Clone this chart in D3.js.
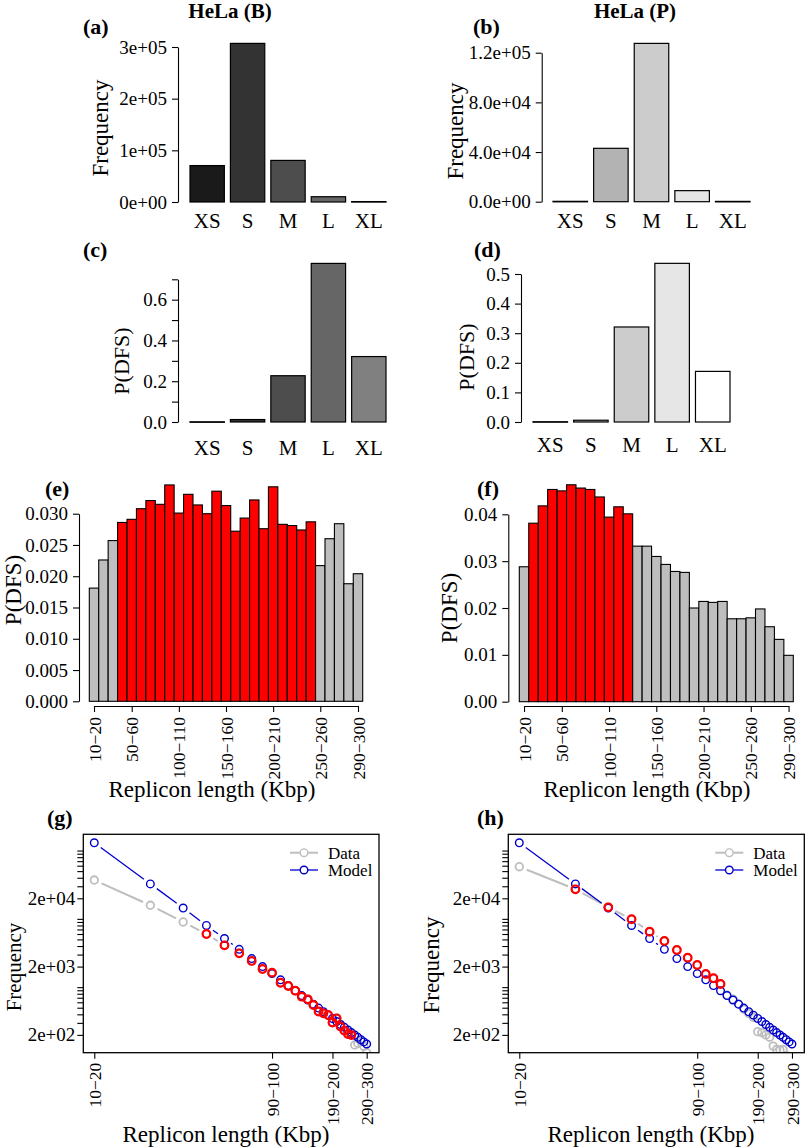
<!DOCTYPE html>
<html>
<head>
<meta charset="utf-8">
<script src="https://cdn.jsdelivr.net/npm/d3@7"></script>
<style>
  body { margin: 0; background: #fff; }
  svg text { font-family: "Liberation Serif", "Times New Roman", Times, serif; fill: #000; }
</style>
</head>
<body>
<svg id="fig" width="805" height="1148"></svg>
<script>
// ---- values ----
const sizeClasses = ["XS", "S", "M", "L", "XL"];
const freqB = [70500, 307000, 80500, 10200, 800];
const freqP = [300, 43000, 127500, 8900, 250];
const dfsB = [0.001, 0.012, 0.227, 0.778, 0.321];
const dfsP = [0.001, 0.006, 0.321, 0.536, 0.171];

// replicon length bins (lower bound, Kbp)
const binStarts = [10, 20, 30, 40, 50, 60, 70, 80, 90, 100, 110, 120, 130, 140, 150,
                   160, 170, 180, 190, 200, 210, 220, 230, 240, 250, 260, 270, 280, 290];
const dfsBinB = [0.0181, 0.0226, 0.0257, 0.0286, 0.0291, 0.0308, 0.0321, 0.0315, 0.0346, 0.0301,
                 0.0331, 0.0314, 0.0300, 0.0336, 0.0313, 0.0272, 0.0293, 0.0322, 0.0276, 0.0343,
                 0.0283, 0.0281, 0.0274, 0.0287, 0.0217, 0.0260, 0.0284, 0.0188, 0.0204];
const dfsBinP = [0.0288, 0.0381, 0.0418, 0.0453, 0.0450, 0.0463, 0.0456, 0.0453, 0.0437, 0.0394,
                 0.0416, 0.0401, 0.0332, 0.0332, 0.0310, 0.0293, 0.0278, 0.0276, 0.0200, 0.0214,
                 0.0212, 0.0214, 0.0177, 0.0177, 0.0179, 0.0198, 0.0160, 0.0133, 0.0099];
const highlightB = [40, 240];   // first and last red bin
const highlightP = [20, 120];

const dataFreqB = [37000, 15800, 9000, 6000, 4100, 3130, 2420, 1845, 1630, 1160,
                   1040, 888, 725, 664, 548, 440, 414, 391, 303, 350,
                   264, 231, 206, 199, 142, 150, 160, 136, 110];
const dataFreqP = [58000, 27100, 14760, 9860, 6490, 4740, 3500, 2700, 2110, 1560,
                   1350, 1112, 768, 664, 566, 474, 414, 362, 223, 216,
                   200, 185, 137, 122, 120, 122, 100, 95, 90];
const modelFreq = [130000, 32500, 14400, 8000, 5150, 3580, 2620, 2000, 1580, 1280,
                   1055, 885, 752, 648, 563, 494, 437, 389, 348, 314,
                   284, 258, 236, 216, 199, 184, 170, 158, 147];

// axis ticks and labels
const freqTicksB = [0, 100000, 200000, 300000];
const freqLabelsB = ["0e+00", "1e+05", "2e+05", "3e+05"];
const freqTicksP = [0, 40000, 80000, 120000];
const freqLabelsP = ["0.0e+00", "4.0e+04", "8.0e+04", "1.2e+05"];
const dfsTicksB = [0, 0.1, 0.2, 0.3, 0.4, 0.5, 0.6, 0.7];
const dfsLabelsB = ["0.0", "", "0.2", "", "0.4", "", "0.6", ""];
const dfsTicksP = [0, 0.1, 0.2, 0.3, 0.4, 0.5];
const dfsLabelsP = ["0.0", "0.1", "0.2", "0.3", "0.4", "0.5"];
const binTicksE = [0, 0.005, 0.010, 0.015, 0.020, 0.025, 0.030];
const binLabelsE = ["0.000", "0.005", "0.010", "0.015", "0.020", "0.025", "0.030"];
const binTicksF = [0, 0.01, 0.02, 0.03, 0.04];
const binLabelsF = ["0.00", "0.01", "0.02", "0.03", "0.04"];
const binAxisAt = [10, 50, 100, 150, 200, 250, 290];
const logYTicks = [200, 300, 400, 500, 600, 700, 800, 900, 1000,
                   2000, 3000, 4000, 5000, 6000, 7000, 8000, 9000, 10000,
                   20000, 30000, 40000, 50000, 60000, 70000, 80000, 90000, 100000];
const logYLabelled = {200: "2e+02", 2000: "2e+03", 20000: "2e+04"};
const logXTicks = [10, 90, 190, 290];
const logXDomain = [8.73, 337.7];
const logYDomain = [109.7, 173000];

const binLabel = b => b + "\u2212" + (b + 10);

// palettes
const grayB = ["#1a1a1a", "#333333", "#4d4d4d", "#666666", "#808080"];
const grayP = ["#999999", "#b3b3b3", "#cccccc", "#e6e6e6", "#ffffff"];
const hiRed = "#ff0000", loGray = "#bebebe", modelBlue = "#0000cd";

const svg = d3.select("#fig");
const FONT = "'Liberation Serif','Times New Roman',Times,serif";

function label(x, y, s, size, opt = {}) {
  const t = svg.append("text").attr("x", x).attr("y", y).text(s)
    .attr("font-size", size)
    .attr("text-anchor", opt.anchor || "middle")
    .attr("font-weight", opt.bold ? "bold" : null);
  if (opt.rotate) t.attr("transform", `rotate(-90,${x},${y})`);
  return t;
}

function styleAxis(g, size) {
  g.attr("font-family", FONT).attr("font-size", size);
  g.selectAll("path, line").attr("stroke", "#000").attr("stroke-width", 1.1);
  g.selectAll("text").attr("fill", "#000");
}

// ---- bar charts of size classes ----
function classPanel(o) {
  const x = d3.scaleBand().domain(sizeClasses).range([o.left, o.right]).paddingInner(0.15);
  const y = d3.scaleLinear().domain([0, o.ticks[o.ticks.length - 1]]).range([o.base, o.top]);
  svg.append("g").selectAll("rect").data(o.values).join("rect")
    .attr("x", (d, i) => x(sizeClasses[i]))
    .attr("width", x.bandwidth())
    .attr("y", d => y(d))
    .attr("height", d => Math.max(0.5, o.base - y(d)))
    .attr("fill", (d, i) => o.colors[i])
    .attr("stroke", "#000").attr("stroke-width", 1.2);
  const ax = svg.append("g").attr("transform", `translate(${o.axisX},0)`)
    .call(d3.axisLeft(y).tickValues(o.ticks).tickFormat((d, i) => o.labels[i])
      .tickSize(6).tickPadding(5).tickSizeOuter(0));
  styleAxis(ax, 19);
  sizeClasses.forEach(c => label(x(c) + x.bandwidth() / 2, o.catY, c, 21));
}

classPanel({values: freqB, colors: grayB, left: 190, right: 386, base: 202, top: 47,
  ticks: freqTicksB, labels: freqLabelsB, axisX: 178, catY: 228});
classPanel({values: freqP, colors: grayP, left: 553, right: 750, base: 201.7, top: 52.7,
  ticks: freqTicksP, labels: freqLabelsP, axisX: 541.7, catY: 228});
classPanel({values: dfsB, colors: grayB, left: 190, right: 386, base: 422, top: 279.3,
  ticks: dfsTicksB, labels: dfsLabelsB, axisX: 178, catY: 455});
classPanel({values: dfsP, colors: grayP, left: 533, right: 730, base: 422, top: 274,
  ticks: dfsTicksP, labels: dfsLabelsP, axisX: 521, catY: 452});

// ---- histograms over replicon length ----
function binPanel(o) {
  const x = d3.scaleBand().domain(binStarts).range([o.left, o.right]).padding(0);
  const y = d3.scaleLinear().domain([0, o.ticks[o.ticks.length - 1]]).range([o.base, o.top]);
  svg.append("g").selectAll("rect").data(o.values).join("rect")
    .attr("x", (d, i) => x(binStarts[i]))
    .attr("width", x.bandwidth())
    .attr("y", d => y(d))
    .attr("height", d => o.base - y(d))
    .attr("fill", (d, i) => binStarts[i] >= o.hi[0] && binStarts[i] <= o.hi[1] ? hiRed : loGray)
    .attr("stroke", "#000").attr("stroke-width", 1.1);
  const ay = svg.append("g").attr("transform", `translate(${o.axisX},0)`)
    .call(d3.axisLeft(y).tickValues(o.ticks).tickFormat((d, i) => o.labels[i])
      .tickSize(6).tickPadding(5).tickSizeOuter(0));
  styleAxis(ay, 19);
  const bw = x.bandwidth();
  const xc = d3.scaleLinear().domain([binStarts[0], binStarts[binStarts.length - 1]])
    .range([x(binStarts[0]) + bw / 2, x(binStarts[binStarts.length - 1]) + bw / 2]);
  const axb = svg.append("g").attr("transform", `translate(0,${o.axisY})`)
    .call(d3.axisBottom(xc).tickValues(binAxisAt).tickFormat(binLabel).tickSize(6).tickSizeOuter(0));
  styleAxis(axb, 17.5);
  axb.selectAll("text").attr("transform", "rotate(-90)")
    .attr("x", -11).attr("y", 0).attr("dy", "0.35em").attr("text-anchor", "end");
}

binPanel({values: dfsBinB, hi: highlightB, left: 89.3, right: 362.7, base: 701.3, top: 513.7,
  ticks: binTicksE, labels: binLabelsE, axisX: 79, axisY: 706});
binPanel({values: dfsBinP, hi: highlightP, left: 519.3, right: 793.3, base: 701.7, top: 514.3,
  ticks: binTicksF, labels: binLabelsF, axisX: 508.3, axisY: 706});

// ---- log-log frequency vs model ----
function logPanel(o) {
  const x = d3.scaleLog().domain(logXDomain).range([o.left, o.right]);
  const y = d3.scaleLog().domain(logYDomain).range([o.bottom, o.top]);
  const id = "clip" + o.key;
  svg.append("clipPath").attr("id", id).append("rect")
    .attr("x", o.left).attr("y", o.top).attr("width", o.right - o.left).attr("height", o.bottom - o.top);
  const g = svg.append("g").attr("clip-path", `url(#${id})`);

  const gap = 8, r = 3.8;
  // type = "b": lines broken around each point
  function brokenLine(vals, color, w) {
    const pts = vals.map((v, i) => [x(binStarts[i]), y(v)]);
    const segs = [];
    for (let i = 0; i < pts.length - 1; i++) {
      const [x1, y1] = pts[i], [x2, y2] = pts[i + 1];
      const d = Math.hypot(x2 - x1, y2 - y1);
      if (d > 2 * gap + 1) {
        const ux = (x2 - x1) / d, uy = (y2 - y1) / d;
        segs.push([x1 + ux * gap, y1 + uy * gap, x2 - ux * gap, y2 - uy * gap]);
      }
    }
    g.append("g").selectAll("line").data(segs).join("line")
      .attr("x1", d => d[0]).attr("y1", d => d[1]).attr("x2", d => d[2]).attr("y2", d => d[3])
      .attr("stroke", color).attr("stroke-width", w);
  }
  function dots(vals, color, w, keep) {
    g.append("g").selectAll("circle")
      .data(vals.map((v, i) => ({b: binStarts[i], v})).filter(keep))
      .join("circle")
      .attr("cx", d => x(d.b)).attr("cy", d => y(d.v)).attr("r", r)
      .attr("fill", "none").attr("stroke", color).attr("stroke-width", w);
  }
  brokenLine(o.data, loGray, 2);
  dots(o.data, loGray, 1.8, () => true);
  brokenLine(modelFreq, modelBlue, 1.3);
  dots(modelFreq, modelBlue, 1.4, () => true);
  dots(o.data, hiRed, 2.2, d => d.b >= o.hi[0] && d.b <= o.hi[1]);

  svg.append("rect").attr("x", o.left).attr("y", o.top)
    .attr("width", o.right - o.left).attr("height", o.bottom - o.top)
    .attr("fill", "none").attr("stroke", "#000").attr("stroke-width", 1.3);

  const ay = svg.append("g").attr("transform", `translate(${o.left},0)`)
    .call(d3.axisLeft(y).tickValues(logYTicks).tickFormat(d => logYLabelled[d] || "")
      .tickSize(6).tickPadding(2).tickSizeOuter(0));
  ay.select(".domain").remove();
  styleAxis(ay, 19);
  const ax = svg.append("g").attr("transform", `translate(0,${o.bottom})`)
    .call(d3.axisBottom(x).tickValues(logXTicks).tickFormat(binLabel).tickSize(6).tickSizeOuter(0));
  ax.select(".domain").remove();
  styleAxis(ax, 17.5);
  ax.selectAll("text").attr("transform", "rotate(-90)")
    .attr("x", -10).attr("y", 0).attr("dy", "0.35em").attr("text-anchor", "end");

  // legend
  const lg = svg.append("g");
  [["Data", loGray, 2, 852.7], ["Model", modelBlue, 1.3, 870]].forEach(([name, col, w, ly]) => {
    const lx = o.right - 89;
    lg.append("line").attr("x1", lx).attr("x2", lx + 10).attr("y1", ly).attr("y2", ly)
      .attr("stroke", col).attr("stroke-width", w);
    lg.append("line").attr("x1", lx + 18).attr("x2", lx + 28).attr("y1", ly).attr("y2", ly)
      .attr("stroke", col).attr("stroke-width", w);
    lg.append("circle").attr("cx", lx + 14).attr("cy", ly).attr("r", r)
      .attr("fill", "none").attr("stroke", col).attr("stroke-width", 1.4);
    lg.append("text").attr("x", lx + 38).attr("y", ly).attr("dy", "0.35em")
      .attr("font-size", 17).text(name);
  });
}

logPanel({key: "g", data: dataFreqB, hi: highlightB, left: 83.3, right: 379, top: 834.3, bottom: 1052.7});
logPanel({key: "h", data: dataFreqP, hi: highlightP, left: 508.3, right: 804.3, top: 834.3, bottom: 1052.7});

// ---- titles, panel letters, axis titles ----
label(230, 18, "HeLa (B)", 21, {bold: true});
label(635, 18, "HeLa (P)", 21, {bold: true});
[["(a)", 83, 34], ["(b)", 473, 34], ["(c)", 83, 257], ["(d)", 474, 257],
 ["(e)", 45, 496], ["(f)", 477, 496], ["(g)", 47, 825], ["(h)", 477, 825]]
  .forEach(([s, x, y]) => label(x, y, s, 22, {bold: true, anchor: "start"}));

label(108, 128, "Frequency", 23, {rotate: true});
label(463, 131, "Frequency", 23, {rotate: true});
label(129, 361, "P(DFS)", 22, {rotate: true});
label(474, 357, "P(DFS)", 22, {rotate: true});
label(21, 590, "P(DFS)", 23, {rotate: true});
label(457, 608, "P(DFS)", 23, {rotate: true});
label(21, 967, "Frequency", 21, {rotate: true});
label(439, 965, "Frequency", 23, {rotate: true});
label(212, 797, "Replicon length (Kbp)", 23);
label(647, 797, "Replicon length (Kbp)", 23);
label(226, 1142, "Replicon length (Kbp)", 23);
label(651, 1142, "Replicon length (Kbp)", 23);
</script>
</body>
</html>
